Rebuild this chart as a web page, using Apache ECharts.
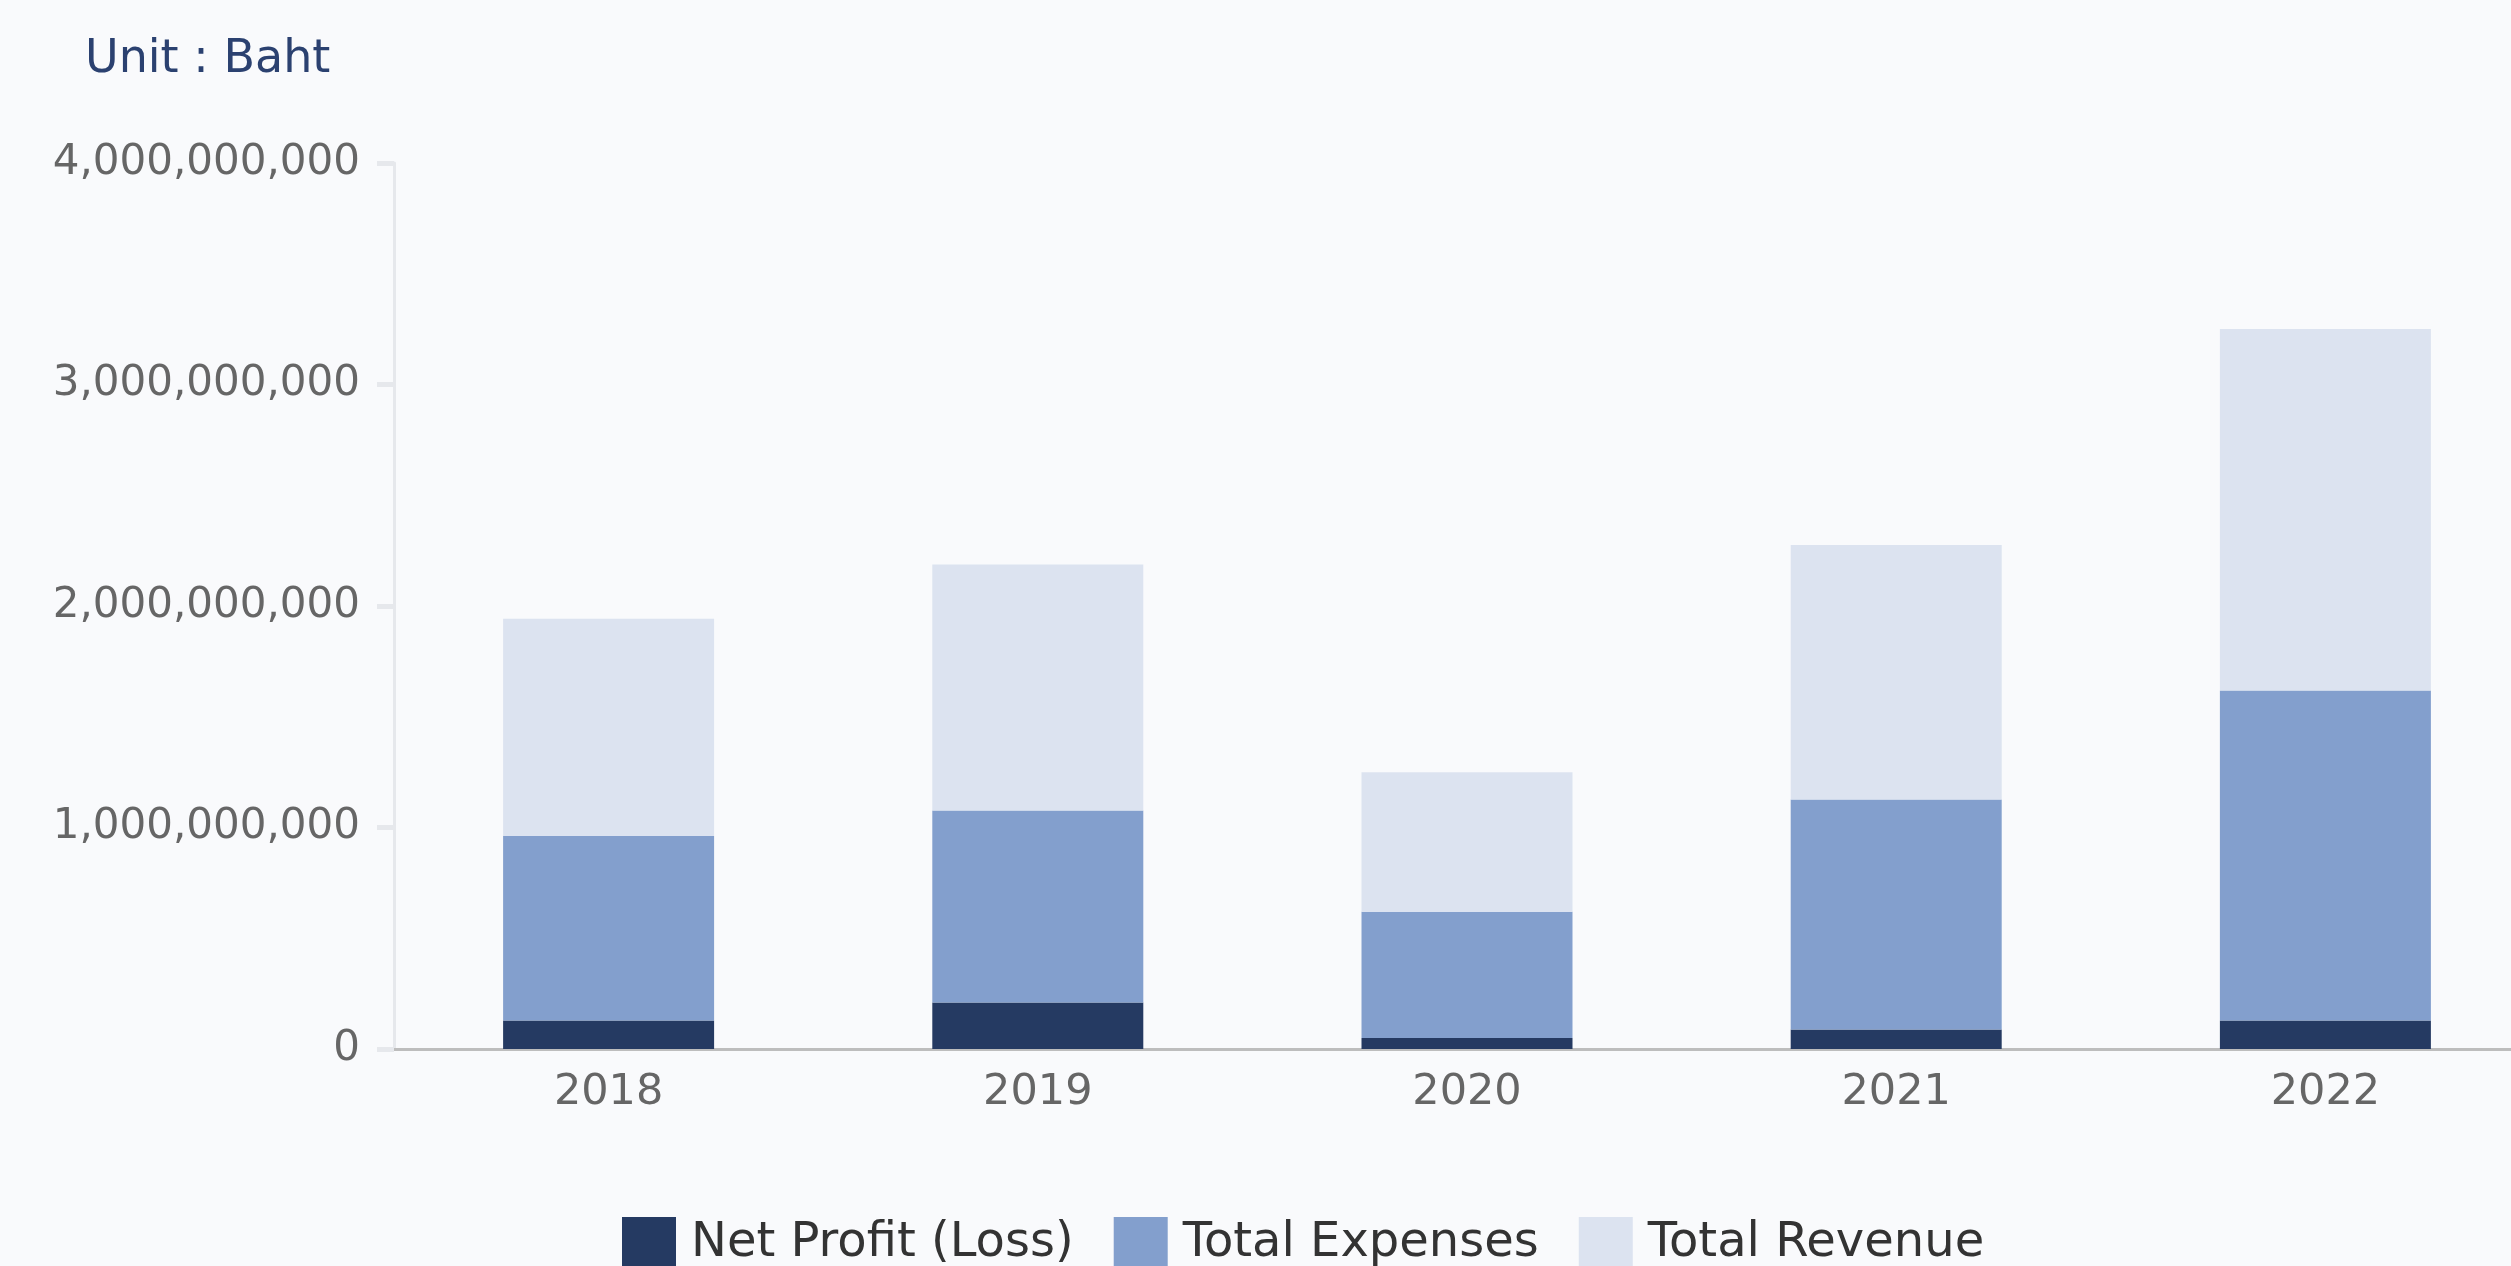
<!DOCTYPE html>
<html>
<head>
<meta charset="utf-8">
<script src="https://cdn.jsdelivr.net/npm/echarts@6/dist/echarts.min.js"></script>
<style>
  html, body { margin: 0; padding: 0; background: #f9fafc; }
  #chart { width: 2511px; height: 1266px; }
</style>
</head>
<body>
<div id="chart"></div>
<script>
const years = ['2018', '2019', '2020', '2021', '2022'];
const netProfit = [129000000, 210000000, 50000000, 88000000, 129000000];
const totalExpenses = [834000000, 867000000, 570000000, 1038000000, 1489000000];
const totalRevenue = [980000000, 1110000000, 630000000, 1149000000, 1632000000];
const yTicks = { min: 0, max: 4000000000, interval: 1000000000 };

const font = 'DejaVu Sans';
const chart = echarts.init(document.getElementById('chart'), null, { renderer: 'canvas' });

const barStyle = (name, data, color) => ({
    name,
    type: 'bar',
    stack: 'total',
    barWidth: 211,
    data,
    itemStyle: { color },
    emphasis: { disabled: true }
});

chart.setOption({
    backgroundColor: '#f9fafc',
    animation: false,
    title: {
        text: 'Unit : Baht',
        left: 80,
        top: 32,
        textStyle: { fontFamily: font, fontSize: 46, fontWeight: 'normal', color: '#2b4170' }
    },
    legend: {
        left: 617,
        top: 1212,
        itemWidth: 54,
        itemHeight: 54,
        itemGap: 40,
        icon: 'rect',
        textStyle: { fontFamily: font, fontSize: 48, color: '#333', padding: [0, 0, 0, 10] },
        data: ['Net Profit (Loss)', 'Total Expenses', 'Total Revenue']
    },
    grid: {
        left: 394,
        right: -29,
        top: 163,
        bottom: 217,
        containLabel: false,
        outerBoundsMode: 'none'
    },
    xAxis: {
        type: 'category',
        data: years,
        axisLine: { lineStyle: { color: '#bdbdbd', width: 3 } },
        axisTick: { alignWithLabel: true, length: 16, lineStyle: { color: '#bdbdbd', width: 3 } },
        axisLabel: { fontFamily: font, fontSize: 43, color: '#666', margin: 22 }
    },
    yAxis: {
        type: 'value',
        min: yTicks.min,
        max: yTicks.max,
        interval: yTicks.interval,
        splitLine: { show: false },
        axisLine: { show: true, lineStyle: { color: '#e6e8ec', width: 3 } },
        axisTick: { show: true, length: 17, lineStyle: { color: '#e6e8ec', width: 5 } },
        axisLabel: {
            fontFamily: font,
            fontSize: 42,
            color: '#666',
            margin: 34,
            formatter: v => Number(v).toLocaleString('en-US')
        }
    },
    series: [
        barStyle('Net Profit (Loss)', netProfit, '#253a62'),
        barStyle('Total Expenses', totalExpenses, '#839fcd'),
        barStyle('Total Revenue', totalRevenue, '#dce3f0')
    ]
});
</script>
</body>
</html>
